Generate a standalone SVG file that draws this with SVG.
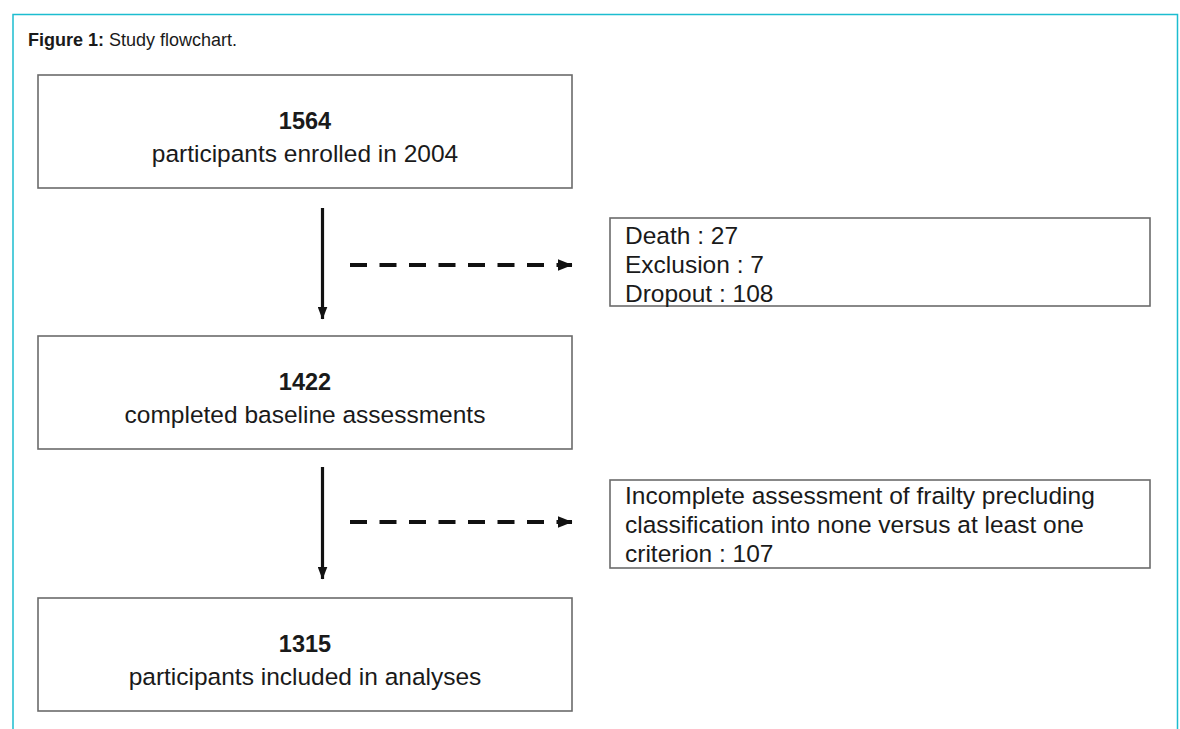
<svg xmlns="http://www.w3.org/2000/svg" width="1180" height="729" viewBox="0 0 1180 729">
  <style>
    .frame { fill: none; stroke: #1cbdd0; stroke-width: 1.5; }
    .box { fill: #ffffff; stroke: #6b6b6b; stroke-width: 1.6; }
    .t { font-family: "Liberation Sans", Arial, sans-serif; fill: #1a1a1a; }
    .num { font-size: 23.5px; font-weight: bold; text-anchor: middle; }
    .lbl { font-size: 24.5px; text-anchor: middle; }
    .side { font-size: 24.5px; }
    .solid { stroke: #111; stroke-width: 3.2; fill: none; }
    .dash { stroke: #111; stroke-width: 4; fill: none; stroke-dasharray: 17 12.5; }
  </style>
  <defs>
    <!-- narrow head for the main flow, wider head for the exclusion arrows -->
    <marker id="head" viewBox="0 0 13 10" refX="12.5" refY="5" markerWidth="13" markerHeight="10" orient="auto" markerUnits="userSpaceOnUse">
      <path d="M0,0 L13,5 L0,10 Z" fill="#111"/>
    </marker>
    <marker id="head-wide" viewBox="0 0 15 12" refX="14.5" refY="6" markerWidth="15" markerHeight="12" orient="auto" markerUnits="userSpaceOnUse">
      <path d="M0,0 L15,6 L0,12 Z" fill="#111"/>
    </marker>
  </defs>

  <rect width="1180" height="729" fill="#ffffff"/>
  <!-- outer figure panel, open at the bottom -->
  <path class="frame" d="M13,740 V14.5 H1177.5 V740"/>
  <text class="t" x="28" y="46" font-size="18"><tspan font-weight="bold">Figure 1:</tspan> Study flowchart.</text>

  <g id="enrolled">
    <rect class="box" x="38" y="75" width="534" height="113"/>
    <text class="t num" x="305" y="129">1564</text>
    <text class="t lbl" x="305" y="162">participants enrolled in 2004</text>
  </g>

  <g id="baseline">
    <rect class="box" x="38" y="336" width="534" height="113"/>
    <text class="t num" x="305" y="390">1422</text>
    <text class="t lbl" x="305" y="423">completed baseline assessments</text>
  </g>

  <g id="analysed">
    <rect class="box" x="38" y="598" width="534" height="113"/>
    <text class="t num" x="305" y="652">1315</text>
    <text class="t lbl" x="305" y="685">participants included in analyses</text>
  </g>

  <g id="losses">
    <rect class="box" x="610" y="218" width="540" height="88"/>
    <text class="t side" x="625" y="244">Death : 27</text>
    <text class="t side" x="625" y="273">Exclusion : 7</text>
    <text class="t side" x="625" y="302">Dropout : 108</text>
  </g>

  <g id="incomplete">
    <rect class="box" x="610" y="480" width="540" height="88"/>
    <text class="t side" x="625" y="504">Incomplete assessment of frailty precluding</text>
    <text class="t side" x="625" y="533">classification into none versus at least one</text>
    <text class="t side" x="625" y="562">criterion : 107</text>
  </g>

  <g id="connectors">
    <line class="solid" x1="322.5" y1="208" x2="322.5" y2="319" marker-end="url(#head)"/>
    <line class="dash" x1="350" y1="265" x2="572" y2="265" marker-end="url(#head-wide)"/>
    <line class="solid" x1="322.5" y1="467" x2="322.5" y2="579" marker-end="url(#head)"/>
    <line class="dash" x1="350" y1="522" x2="572" y2="522" marker-end="url(#head-wide)"/>
  </g>
</svg>
